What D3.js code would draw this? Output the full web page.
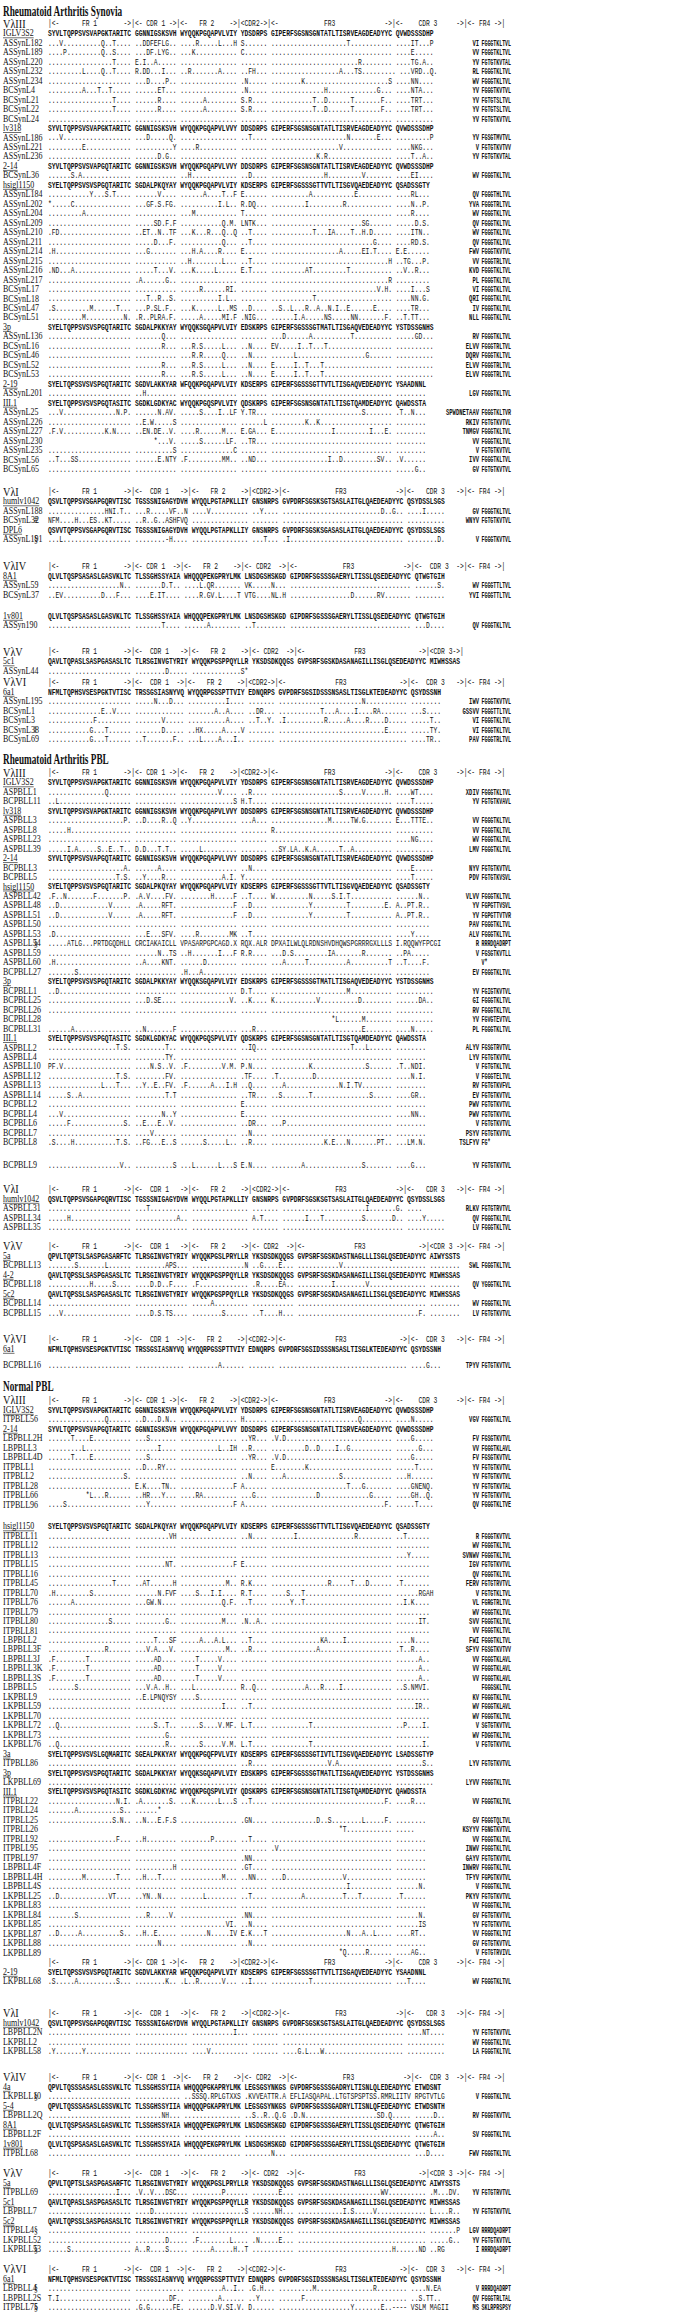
<!DOCTYPE html>
<html><head><meta charset="utf-8">
<script src="https://cdn.jsdelivr.net/npm/d3@7"></script>
<style>body{margin:0;background:#fff} svg{display:block}</style>
</head><body><div id="chart"></div>
<script>
// section titles and family labels
const sectionTitles = ["Rheumatoid Arthritis Synovia", "Rheumatoid Arthritis PBL", "Normal PBL"];
const segLabels = ["FR 1", "CDR 1", "FR 2", "CDR2", "FR3", "CDR 3"];

// germline sequences (segments split by one space)
const germlines = [
  ["IGLV3S2", "SYVLTQPPSVSVAPGKTARITC GGNNIGSKSVH WYQQKPGQAPVLVIY YDSDRPS GIPERFSGSNSGNTATLTISRVEAGDEADYYC QVWDSSSDHP"],
  ["lv318", "SYVLTQPPSVSVAPGKTARITC GGNNIGSKSVH WYQQKPGQAPVLVVY DDSDRPS GIPERFSGSNSGNTATLTISRVEAGDEADYYC QVWDSSSDHP"],
  ["2-14", "SYVLTQPPSVSVAPGQTARITC GGNNIGSKSVH WYQQKPGQAPVLVVY DDSDRPS GIPERFSGSNSGNTATLTISRVEAGDEADYYC QVWDSSSDHP"],
  ["hsigl1150", "SYELTQPPSVSVSPGQTARITC SGDALPKQYAY WYQQKPGQAPVLVIY KDSERPS GIPERFSGSSSGTTVTLTISGVQAEDEADYYC QSADSSGTY"],
  ["3p", "SYELTQPPSVSVSPGQTARITC SGDALPKKYAY WYQQKSGQAPVLVIY EDSKRPS GIPERFSGSSSGTMATLTISGAQVEDEADYYC YSTDSSGNHS"],
  ["2-19", "SYELTQPSSVSVSPGQTARITC SGDVLAKKYAR WFQQKPGQAPVLVIY KDSERPS GIPERFSGSSSGTTVTLTISGAQVEDEADYYC YSAADNNL"],
  ["III.1", "SYELTQPPSVSVSPGQTASITC SGDKLGDKYAC WYQQKPGQSPVLVIY QDSKRPS GIPERFSGSNSGNTATLTISGTQAMDEADYYC QAWDSSTA"],
  ["3a", "SYELTQPPSVSVSLGQMARITC SGEALPKKYAY WYQQKPGQFPVLVIY KDSERPS GIPERFSGSSSGTIVTLTISGVQAEDEADYYC LSADSSGTYP"],
  ["humlv1042", "QSVLTQPPSVSGAPGQRVTISC TGSSSNIGAGYDVH WYQQLPGTAPKLLIY GNSNRPS GVPDRFSGSKSGTSASLAITGLQAEDEADYYC QSYDSSLSGS"],
  ["DPL6", "QSVVTQPPSVSGAPGQRVTISC TGSSSNIGAGYDVH WYQQLPGTAPKLLIY GNSNRPS GVPDRFSGSKSGASASLAITGLQAEDEADYYC QSYDSSLSGS"],
  ["8A1", "QLVLTQSPSASASLGASVKLTC TLSSGHSSYAIA WHQQQPEKGPRYLMK LNSDGSHSKGD GIPDRFSGSSSGAERYLTISSLQSEDEADYYC QTWGTGIH"],
  ["1v801", "QLVLTQSPSASASLGASVKLTC TLSSGHSSYAIA WHQQQPEKGPRYLMK LNSDGSHSKGD GIPDRFSGSSSGAERYLTISSLQSEDEADYYC QTWGTGIH"],
  ["5c1", "QAVLTQPASLSASPGASASLTC TLRSGINVGTYRIY WYQQKPGSPPQYLLR YKSDSDKQQGS GVPSRFSGSKDASANAGILLISGLQSEDEADYYC MIWHSSAS"],
  ["6a1", "NFMLTQPHSVSESPGKTVTISC TRSSGSIASNYVQ WYQQRPGSSPTTVIY EDNQRPS GVPDRFSGSIDSSSNSASLTISGLKTEDEADYYC QSYDSSNH"],
  ["5a", "QPVLTQPTSLSASPGASARFTC TLRSGINVGTYRIY WYQQKPGSLPRYLLR YKSDSDKQQGS GVPSRFSGSKDASTNAGLLLISGLQSEDEADYYC AIWYSSTS"],
  ["4-2", "QAVLTQPSSLSASPGASASLTC TLRSGINVGTYRIY WYQQKPGSPPQYLLR YKSDSDKQQGS GVPSRFSGSKDASANAGILLISGLQSEDEADYYC MIWHSSAS"],
  ["5c2", "QAVLTQPSSLSASPGASASLTC TLRSGINVGTYRIY WYQQKPGSPPQYLLR YKSDSDKQQGS GVPSRFSGSKDASANAGILLISGLQSEDEADYYC MIWHSSAS"],
  ["4a", "QPVLTQSSSASASLGSSVKLTC TLSSGHSSYIIA WHQQQPGKAPRYLMK LEGSGSYNKGS GVPDRFSGSSSGADRYLTISNLQLEDEADYYC ETWDSNT"],
  ["5-4", "QPVLTQSSSASASLGSSVKLTC TLSSGHSSYIIA WHQQQPGKAPRYLMK LEGSGSYNKGS GVPDRFSGSSSGADRYLTISNLQFEDEADYYC ETWDSNTH"]
];

// clone rows: name;mark;segments (short segment = padded with dots, "_" = blank);FR4
// "=name" is a germline row
const synL3 = [
"=IGLV3S2",
"ASSynL182;;...V..........Q..T.... ..DDFEFLG.. ....R.....L...H S...... ....................T........... ....IT...P;VI FGGGTKLTVL",
"ASSynL189;;....P.........Q..S.... ...DF.LYG.. ...K........... C...... . ....E.....;VV FGGGTKLTVL",
"ASSynL220;;.................T.... E.I..A..... . . .......................R........ ....TG.A..;YV FGTGTKVTAL",
"ASSynL232;;.........L....Q..T.... R.DD...I... ..R.......A.... ..FH... ..................A...TS......... ...VRD..Q.;RL FGGGTKLTVL",
"ASSynL234;;. ...D....P.. . .N..... ........K......................S ....NN....;WV FGGGTKLTVL",
"BCSynL4;;.........A...T..T..... ......ET... . .N..... ..............H.............G... ....NTA...;YV FGGGTKVTVL",
"BCSynL21;;.................T.... ......R.... ......A........ S.R.... ...........T..D......T.......F.. ....TRT...;YV FGTGTSLTVL",
"BCSynL22;;.................T.... ......R.... ......A........ S.R.... ...........T..D......T.......F.. ....TRT...;YV FGTGTSLTVL",
"BCSynL24;;. . . . . .;YV FGTGTKVTVL",
"=lv318",
"ASSynL186;;...V. ...D.....Q. . ..T.... ....................N.......E... .........P;YV FGSGTMVTVL",
"ASSynL221;;.........E. ..........Y ....R. . ..................V. ....NKG...;V FGTGTKVTVV",
"ASSynL236;;. ......D.G.. . . ............K.R. ....T..A..;YV FGTGTKVTAL",
"=2-14",
"BCSynL36;;......S.A. . ..H. ..D.... ..............H.........V. ....EI....;WV FGGGTKLTVL",
"=hsigl1150",
"ASSynL184;;...........Y...S.T.... ......V.... ......A....T..F E...... ..........A...........E. ....RL...;QV FGGGTHLTVL",
"ASSynL202;;*.....C. ...GF.S.FG. ..........I.L.. R.DQ... .........I.........R. ....N..P.;YVA FGGGTRLTVL",
"ASSynL204;;.........A. . ...M. T...... . ....R....;WV FGGGTKLTVL",
"ASSynL209;;. .....SD.F.F ...........Q.M. LNTK... ........................SG. .....D.S.;QV FGGGTKLTVL",
"ASSynL210;;.FD. ..ET..N..TF ...K...R...Q..Q ..T.... ...........T...IA....T..H.D. ....ITN..;WV FGGGTKLTVL",
"ASSynL211;;. .....D...F. ...........Q... ..T.... ...........................G. ....RD.S.;QV FGGGTKLTVL",
"ASSynL214;;.H. ...G. ...H.A....R. E...... ..................A.....EI.T. E.E......;FWV FGGGTKVTVL",
"ASSynL215;;. . ..H........L. ..T.... ...............................H ..TG...P.;VV FGGGTRLTVL",
"ASSynL216;;.ND...A. .....T...V. ...K.....L. E.T.... .........AT.........T. ..V..R...;KVD FGGGTKLTVL",
"ASSynL217;;. .A......G.. . . ...............................R .;PL FGGGTKLTVL",
"BCSynL17;;. . .....R......RI. . ............................V.H. ....I...S;VI FGGGTKLTVL",
"BCSynL18;;. ...T..R..S. ..........I.L.. . ...........T. ....NN.G.;QRI FGGGTKLTVL",
"BCSynL47;;.S.........M......T... ...P.SL.F.. ...K......L..MS ..D.... ..S..L...R..A..N.I..E......E.... ....TR...;IV FGGGTKLTVL",
"BCSynL51;;.........M..........N. .R..PLRA.F. .....A.....MI.F .NIG... ......I.A.....NS.....NN.......F. ..T.TT...;NLL FGGGTKLTVL",
"=3p",
"ASSynL136;;. .......Q... . . ...D......A..........T. .....GD...;RV FGGGTKLTVL",
"BCSynL16;;. .......R... ...R.S.....L. ..N.... EV.....I..T...T. .;ELVV FGGGTRLTVL",
"BCSynL46;;. . ...R.R.....Q. ..N.... ......L..................G. .;DQRV FGGGTKLTVL",
"BCSynL52;;. .......R... ...R.S.....L. ..N.... E.....I..T...T. .;ELVV FGGGTRLTVL",
"BCSynL53;;. .......R... ...R.S.....L. ..N.... E.....I..T...T. .;ELVV FGGGTRLTVL",
"=2-19",
"ASSynL201;;. ..H. . . . .;LGV FGGGTKLTVL",
"=III.1",
"ASSynL25;;...V..............N.P. ......N.AV. .....S....I..LF Y.TR... ........................S. .T..N...;SPWDNETAAV FGGGTKLTVR",
"ASSynL226;;. ..E.W.....S . ......L .........K..K. .;RKIV FGTGTKVTVL",
"ASSynL227;;.F.V...........K.N. ..EN.DE..V. ....R......M. E.GA... E...............I.........I...E. .;TNMGV FGGGTKLTVL",
"ASSynL230;;_ _____*...V. .....S......LF. ..TR... . .;VV FGGGTKLTVL",
"ASSynL235;;. ..........S ..............C . . .;V FGTGTKVTVL",
"BCSynL56;;..T...SS. ......E.NTY .F.........MM.. ..ND... ...............I..D.........SV.. .V......;IVV FGGGTKLTVL",
"BCSynL65;;. . . . . .....G..;GV FGTGTKVTVL"
];
const synL1 = [
"=humlv1042",
"ASSynL188;;...............HNI.T.. ...R.....VF..N ....V. ..Y.... ..........................D..G.. ....I.....;GV FGGGTKLTVL",
"BCSynL32;#;NFM....H...ES..KT..... ..R..G..ASHFVQ . . . .;WNYV FGTGTKVTVL",
"=DPL6",
"ASSynL191;§;...L. ........-H.... . ...T... .I. ........D.;V FGGGTKVTVL"
];
const synL4 = [
"=8A1",
"ASSynL59;;...................N.. .......D.T.. ....L.QR. VK.....N... . ......S.;WV FGGGTTLTVL",
"BCSynL37;;..EV..........D...F... ....E.IT.... ....R.GV.L....T VTG....NL.H ................D......RV. .;YVI FGGGTTLTVL"
];
const synL4b = [
"=1v801",
"ASSyn190;;. .......T.... ......A. ..T. . ...D....;QV FGGGTKLTVL"
];
const synL5 = [
"=5c1",
"ASSynL44;;. ........D..... .............S*;"
];
const synL6 = [
"=6a1",
"ASSynL195;;. .....N...D... ..........I. . ......................N. .;IWV FGGGTKVTVL",
"BCSynL1;;..............E..V.... . .......A..A. ..DR... ...........T...A....I....RA. ...S....;GSSVV FGGGTTLTVL",
"BCSynL3;;............F. .......V. ..........A. ..T..Y. .I..........R.....A....R....D. .....T..;VI FGGGTKLTVL",
"BCSynL38;‖;...........G...T. .......D. ..HX.....A....V . ............................E. .....TY.;VI FGGGTKLTVL",
"BCSynL69;;...........G...T. ..T.......F.. ...L....A...I.. . . ....TR..;PAV FGGGTRLTVL"
];

const pblL3 = [
"=IGLV3S2",
"ASPBLL1;;...............Q. . ..........V. ..R.... ..................S.....V.....H. ....WT....;XDIV FGGGTKLTVL",
"BCPBLL11;;..L. . ..............S H.T.... . ....T.....;YV FGTGTKVAVL",
"=lv318",
"ASPBLL3;;....................P. ..D....R..Q ..Y. ...A... ...............M.....TW.G. E...TTTE..;VV FGGGTKLTVL",
"ASPBLL8;;.....H. . . . R. .;VV FGGGTKLTVL",
"ASPBLL23;;. . . . . ....NG....;WV FGGGTKLTVL",
"ASPBLL39;;.....I.A.....S..E..T.. D.D...T.T.. .....L. . ..SY.LA..K.A......T..A. .;LMV FGGGTKLTVL",
"=2-14",
"BCPBLL3;;....................A. ......A.... . ..N.... . ....E.....;NYV FGTGTKVTVL",
"BCPBLL5;;..................T.S. ..Y....R... ...........A.I. Y...... . ....T.....;PDV FGTGTKVSVL",
"=hsigl1150",
"ASPBLL42;;.F..N.......F.......P. .A.V....FV. ........H.....F ..T.... W.........N.....S.I.T. ......N..;VLVV FGGGTKLTVL",
"ASPBLL48;;..D.............V. .A.....RFT. ..............F ..D.... ..........Y.........T.........E. A..PT.R..;YV FGPGTTVSVL",
"ASPBLL51;;..D.............V. .A.....RFT. ..............F ..D.... ..........Y.........T. A..PT.R..;YV FGPGTTVTVR",
"ASPBLL50;;. . . . . .;PAV FGGGTKLTVL",
"ASPBLL53;;.D. ...E...SFV. ....R........MK ..T.... . ....Y....;ALV FGGGTKLTVL",
"ASPBLL54;§;.....ATLG...PRTDGQDHLL CRCIAKAICLL VPASARPGPCAGD.X RQX.ALR DPXAILWLQLRDNSHVDHQWSPGRRRGXLLLS I.RQQWYFPCGI;R RRRDQADRPT",
"ASPBLL59;;. ......N..TS ..H.......I...F R.R.... ...D.S.........IA.......R. ..PA.....;V FGSGTKVTLL",
"ASPBLL60;;.H. ..A....KNT. ......D. . ...A.....T..........A..........T ..T....F.;V*",
"BCPBLL27;;.......S. . .H...A. . . .;EV FGGGTKLTVL",
"=3p",
"BCPBLL1;;..D. . . D.T.... ....................M. .;YV FGIGTKVTVL",
"BCPBLL25;;. ...D.SE.... .............V. ..K.... K...........V..........D. ......DA..;GI FGGGTKLTVL",
"BCPBLL26;;. . . . . .;RV FGGGTKLTVL",
"BCPBLL28;;_ _ _ _ ________________*L......M. .;YV FGVGTEVTVL",
"BCPBLL31;;......A. ..N.......F . ...R... ........................E. ....N.....;PL FGGGTKLTVL",
"=III.1",
"ASPBLL2;;..................T.S. ........T.. . ..IQ... .....................T...L. .;ALYV FGSGTRVTVL",
"ASPBLL4;;. ........TY. . . . .;LYV FGTGTKVTVL",
"ASPBLL10;;PF.V. ....N.S..V. .F.........V.M. P.N.... ..........K..............S. .T..NDI.;V FGTGTKLTVL",
"ASPBLL12;;..................T.S. ........FV. . .TF.... .T.........D. ....N.I.;V FGGGTELTVL",
"ASPBLL13;;..............L...T... ..Y..E..FV. .F......A...I.H ..Q.... ...A..............N.I.TV. .;RV FGTGTKVFVL",
"ASPBLL14;;.....S..A. ........T.T . ..TR... ..S.......T...............S. ....GR..;EV FGTGTKVTVL",
"BCPBLL2;;. . . E...... . .;PWV FGTGTKVTVL",
"BCPBLL4;;...V. .......N..Y . E...... . ....NN..;PWV FGTGTKVTVL",
"BCPBLL6;;.....F..............S. ..E...E..V. . ..DR... ...P. .;V FGTGTKVTVL",
"BCPBLL7;;. ....V. . ..N.... . .;PSYV FGTGTKVTVL",
"BCPBLL8;;.S....H...........T.S. ..FG...E..S ......S.....L.. ..R.... ..............K.E...N.......PT.. ...LM.N.;TSLFYV FG*"
];
const pblL3b = [
"BCPBLL9;;...................V.. ..........S ...L......L...S E.N.... ........A...............S. ....G...;YV FGTGTKVTVL"
];
const pblL1 = [
"=humlv1042",
"ASPBLL31;;. ...T. . . ......................I.......G. ....______;RLKV FGTGTRVTVL",
"ASPBLL34;;.....H. ...........A.. . A.T.... ......I...T..........S.......D.. ....Y.....;QV FGGGTKLTVL",
"ASPBLL35;;. . . . . .;LV FGGGTKLTVL"
];
const pblL5 = [
"=5a",
"BCPBLL13;;.......S.......L. ........APS... ..............N ..G....E... ...........V. .;SWL FGGGTKLTVL",
"=4-2",
"BCPBLL18;;...........H.....S. ....D.D..F... .F. .R.....EA.. .........I........V. .;QV YGGGTKLTVL",
"=5c2",
"BCPBLL14;;. . .....A. . . .;WV FGGGTKLTVL",
"BCPBLL15;;...V. ....D.S.TS.... ........S. ..T....H... ................................F. .;LV FGTGTKVTVL"
];
const pblL6 = ["=6a1"];
const pblL6b = [
"BCPBLL16;;. . ........A. . . ....G...;TPYV FGTGTKVTVL"
];

const nL3a = [
"=IGLV3S2",
"ITPBLL56;;...............Q. ..D...D.N.. . H...... .......................Q. ....N.....;VGV FGGGTKLTVL",
"=2-14",
"LBPBLL2H;;......T....E. ...S. . ..YR... .V.D. ....G.....;FV FGSGTKVTVL",
"LBPBLL3;;.........L. ......I.... ..........L..IH ..R.... .........D..D....I..G. ......G...;VV FGGGTKLAVL",
"LBPBLL4D;;......T....E. ...S. . ..YR... .V.D. ....G.....;FV FGSGTKVTVL",
"ITPBLL1;;. ..D...RY... . . E........K. .....T....;YV FGTGTKVTVL",
"ITPBLL2;;....................S. . . ..N.... ...A..............S. ...H......;YV FGTGTKVTVL",
"ITPBLL28;;. E.K....TN.. ..............F A...... ....................T...G. ....GNENQ.;YV FGTGTKVTAL",
"ITPBLL66;;__________*L...R...... ..HR...Y... ....RA. ...G... ............D.............G. ....GH..Q.;YV FGTGTKVTVL",
"ITPBLL96;;....S. ...Y. ..............F A...... ..............................F. .....T....;QV FGGGTKLTVE"
];
const nL3b = [
"=hsigl1150",
"ITPBLL11;;. .........VH . ..N.... ......I...............R. ..T......;R FGGGTKVTVL",
"ITPBLL12;;. . . . . .;WV FGGGTKLTVL",
"ITPBLL13;;. . . . . ...Y.....;SVNWV FGGGTKLTVL",
"ITPBLL15;;. ........NT. ..............F E...... . .;IGV FGTGTKVTVL",
"ITPBLL16;;. . . . . .;QV FGGGTKLTVL",
"ITPBLL45;;.................T.... ..AT......H ............M.. R.K.... ...............R.....T...D. .T.......;FERV FGTGTRVTVL",
"ITPBLL70;;.H.........S. ......N.FVF ....S...I.I. R.T.... ....S...T. ......RGAH;V FGTGTKLTVL",
"ITPBLL76;;......A. ...GW.N.... ...........Q.F. ..T.... .....Y..T. ..I.K....;VL FGRGTRLTVL",
"ITPBLL79;;. . . . . .;WV FGGGTKLTVL",
"ITPBLL80;;................S. ........G.. ...........M. .N..A.. . ......IT.;SVV FGGGTKLTVL",
"ITPBLL81;;. . . . . .;VV FGGGTKLTVL",
"LBPBLL2;;. .....T...SF .....A...A.L. ..T.... .............KA....I. ....N....;FWI FGGGTKLTVL",
"LBPBLL3F;;...............R. ...V.A...V. ............M.. ..R.... ............A. .T..R....;SFYV FGSGTKVTVV",
"LBPBLL3J;;.F........T. .....AD.... ....T.....V. . . ......A..;VV FGGGTKLAVL",
"LBPBLL3K;;.F........T. .....AD.... ....T.....V. . . ......A..;VV FGGGTKLAVL",
"LBPBLL3S;;.F........T. .....AD.... ....T.....V. . . ......A..;VV FGGGTKLAVL",
"LBPBLL5;;.......S. ...V.A..H.. ...L. R..Q... .........A...R....I. ..S.NMVI.;FGGGSKLTVL",
"LKPBLL9;;. ..E.LPNQYSY ....S. . . .;KV FGGGTKLTVL",
"LKPBLL59;;. . ...........I. ..T.... . .....IR..;WV FGGGTKLAVL",
"LKPBLL70;;. . . . . .;WV FGGGTKLTVL",
"LKPBLL72;;..Q. .....S..T.. .....S....V.MF. L.T.... ..........T. ..P....I.;V SGTGTKVTVL",
"LKPBLL73;;. ........G.. . . . .;WV FDGGTKLTVL",
"LKPBLL76;;..Q. ........R.. .....S.....V.M. L.T.... ..........T. .......I.;V FGTGTKVTVL",
"=3a",
"ITPBLL86;;. . . ..R.... ...............V.A. .......S..;LYV FGTGTKVTVL",
"=3p",
"LKPBLL69;;. . . . . .;LYVV FGGGTKLTVL",
"=III.1",
"ITPBLL22;;..................N.I. .A.......S. ...K......L...S ..T.... ..............................F. ....R...;VV FGGGTKLTVL",
"ITPBLL24;;.......A...........S.. ......*____;",
"ITPBLL25;;.................S.N.. ..N...E.F.S . .GN.... ............D..S........L.....F. .;GV FGGGTQLTVL",
"ITPBLL26;;_ _ _ _ __________________*T. .....___;KSYYV FGNGTKVTVL",
"ITPBLL92;;..................F. ..H. ........P. ..T.... . .;VV FGGGTKLTVL",
"ITPBLL95;;. . . . .V. .;INWV FGGGTKLTVL",
"ITPBLL97;;. . . .NN.... . .;GAYV FGTGTKVTVL",
"LBPBLL4F;;. ..........H . .GT.... . .;INWRV FGGGTKLTVL",
"LBPBLL4H;;.........M........T... ..H...T.... ...........M... ..NN... ...D...............V. .;TFYV FGPGTKVTVL",
"LBPBLL4S;;. . . . ....................I. ......N.;V FGGGTKLTVL",
"LKPBLL25;;..D.............VT. ..YN..N.... ......L. ..T.... ........A..........T...T. .T......;PKYV FGTGTKVTVL",
"LKPBLL83;;. . . . . .;VV FGGGTKLTVL",
"LKPBLL84;;.......S. ...R.....V. . .NN.... . ......N.;GV FGTGTKVTVL",
"LKPBLL85;;. . ............VI. ..N.... . ......IS;YV FGTGTKVTVL",
"LKPBLL87;;..D.....A..........S.. ..H..E..... .......N.....IV E.K...T ....................N...A..L. ....RT..;VV FGGGTKLTVI",
"LKPBLL88;;. ......N.... . ..N.... . .;GV FGTGTKVTVL",
"LKPBLL89;;_ _ _ _ __________________*Q.....R. ....AG..;V FGTGTRVIVL"
];
const nL3c = [
"=2-19",
"LKPBLL68;;.S.....A..........S... ........K.. .L..R......V... ..I.... ..........T. ...T....;WV FGGGTKLTVL"
];
const nL1 = [
"=humlv1042",
"LBPBLL2N;;. . ...........I... . . ....NT....;YV FGTGTKVTVL",
"LKPBLL2;;. . . . . .;WV FGGGTKLTVL",
"LKPBLL58;;.Y.......Y. . ....V. . ....G.L...W. .;LA FGGGTKLTVL"
];
const nL4 = [
"=4a",
"LKPBLL10;§;. . ..SSSQ.RPLGTXXS .KVVEATTR.A EFLIASQAPAL.LTGTSPSPTSS.RMRLIITV RPGTVTLG;V FGGGTKLTVL",
"=5-4",
"LBPBLL2Q;;. .......NH... . ..S..R..Q.G .D.N...................SD.Q. .....D..;RV FGGGTKVTVL",
"=8A1",
"LBPBLL2F;;. . . . . .....A..;SV FGGGTKLTVL",
"=1v801",
"ITPBLL68;;. . . .......N... . ...D....;FWV FGGGTKLTVL"
];
const nL5 = [
"=5a",
"ITPBLL69;;..................I... .V..V...DSC... ........P. .......E... ......................WV. .M...DV.;YV FGTGTRVTVL",
"=5c1",
"LBPBLL7;;. ....D. ..............S ......NH... ............I.S.....V. L....R..;YV FGTGTKVTVL",
"=5c2",
"ITPBLL4;§;. . . . . .......P;LGV RRRDQADRPT",
"LKPBLL52;;. ........D..... .F........L.... .N.....E... . .....G..;YV FGTGTKVTVL",
"LKPBLL53;§;.....S. A..R....S..... .....A.....H..T . .........................H......ND ..RG____;I RRRDQADRPT"
];
const nL6 = [
"=6a1",
"LBPBLL4;§;. . .........A..I.. .G.H... .........M...............R. ....N.EA;V RRRDQADRPT",
"LBPBLL2S;;T.I. .........DF.. ........A. ..Y.... ......F. ..S.TT..;QV FGGGTRLTAL",
"ITPBLL75;§;. .G.G......FE. ......D.V.SI.V. D...... ...................Y.......E..---- VSLM_MAGII;MS SKLRPRSPSY"
];

// ---------- layout ----------
const W = 685, H = 2313;
const SX = 0.66;      // horizontal squeeze of the scanned figure
const NX = 0.76;      // squeeze for names
const CW = 3.78;      // width of one residue column
const SEQ_X = 48;
const P = 9.47;       // line pitch
const MONO = "'Liberation Mono','DejaVu Sans Mono',monospace";
const SERIF = "'Liberation Serif','DejaVu Serif',serif";

const blocks = [
  {title: 0, y: 11},
  {fam: "VλIII", hy: 23.5, parts: [[synL3, 33]]},
  {fam: "VλI", hy: 491.5, parts: [[synL1, 501]]},
  {fam: "VλIV", hy: 566, parts: [[synL4, 575.5], [synL4b, 615.5]]},
  {fam: "VλV", hy: 651.5, noFr4: true, parts: [[synL5, 661]]},
  {fam: "VλVI", hy: 682, parts: [[synL6, 691.5]]},
  {title: 1, y: 759},
  {fam: "VλIII", hy: 772.5, parts: [[pblL3, 782], [pblL3b, 1164.5]]},
  {fam: "VλI", hy: 1189, parts: [[pblL1, 1198.5]]},
  {fam: "VλV", hy: 1246, parts: [[pblL5, 1255.5]]},
  {fam: "VλVI", hy: 1339, parts: [[pblL6, 1348.5], [pblL6b, 1365]]},
  {title: 2, y: 1386.5},
  {fam: "VλIII", hy: 1400, parts: [[nL3a, 1409.5], [nL3b, 1526]]},
  {fam: "", hy: 1962, parts: [[nL3c, 1971.5]]},
  {fam: "VλI", hy: 2013, parts: [[nL1, 2022.5]]},
  {fam: "VλIV", hy: 2077, parts: [[nL4, 2086.5]]},
  {fam: "VλV", hy: 2173, parts: [[nL5, 2182.5]]},
  {fam: "VλVI", hy: 2269, parts: [[nL6, 2278.5]]}
];

const germMap = new Map(germlines);
const col = d3.scaleLinear().domain([0, 1]).range([SEQ_X, SEQ_X + CW]);   // column -> px
const y = d3.scaleLinear().domain([0, H]).range([0, H]);
const nb = s => s.replace(/ /g, "\u00A0");

function fillRow(seq, germ) {
  const gs = germ.split(" ");
  const ss = seq.split(" ");
  return gs.map((g, i) => {
    let s = ss[i];
    if (s === undefined || s === "_") return " ".repeat(g.length);
    s = s.replace(/_/g, " ");
    return s.length < g.length ? s + ".".repeat(g.length - s.length) : s;
  }).join(" ").replace(/\s+$/, "");
}

function center(label, w) {
  const l = Math.max(0, Math.floor((w - label.length) / 2));
  return (" ".repeat(l) + label).padEnd(w, " ").slice(0, w);
}
function piece(L, label) {
  if (L >= label.length + 6) return "<-" + center(label, L - 4) + "->";
  if (L >= label.length + 3) return "<" + center(label, L - 3) + "->";
  return ("<" + label + ">").slice(0, L).padEnd(L, " ");
}
function headerText(germ, noFr4) {
  const segs = germ.split(" ");
  let starts = [], s = 0;
  segs.forEach(g => { starts.push(s); s += g.length + 1; });
  let str = "|";
  segs.forEach((g, i) => {
    let L = g.length;
    if (i === 0) L -= 1;
    if (i === segs.length - 1 && !noFr4) L = Math.max(L, 110 - starts[i]);
    str += piece(L, segLabels[i]) + "|";
  });
  if (!noFr4) str += "<- FR4 ->|";
  return str;
}

// flatten rows
const rows = [], headers = [], fams = [], titles = [];
blocks.forEach(b => {
  if (b.title !== undefined) { titles.push({t: sectionTitles[b.title], y: b.y}); return; }
  let germ = null;
  b.parts.forEach(([arr, y0], pi) => {
    arr.forEach((r, i) => {
      const yy = y0 + i * P;
      if (r[0] === "=") {
        const name = r.slice(1);
        germ = germMap.get(name);
        rows.push({name, mark: "", seq: germ, fr4: "", germ: true, y: yy});
      } else {
        const [name, mark, seq, fr4] = r.split(";");
        rows.push({name, mark, seq: fillRow(seq, germ), fr4: fr4 || "", germ: false, y: yy});
      }
      if (pi === 0 && i === 0) headers.push({t: headerText(germ, b.noFr4), y: b.hy});
    });
  });
  if (b.fam) fams.push({t: b.fam, y: b.hy});
});

const svg = d3.select("#chart").append("svg")
  .attr("width", W).attr("height", H)
  .style("background", "#fff");

const gS = svg.append("g").attr("transform", `scale(${SX},1)`);
const gN = svg.append("g").attr("transform", `scale(${NX},1)`);

// titles
gS.selectAll("text.title").data(titles).join("text")
  .attr("class", "title")
  .attr("x", 3 / SX).attr("y", d => y(d.y) + 4.8)
  .attr("font-family", SERIF).attr("font-weight", "bold").attr("font-size", 14)
  .attr("fill", "#111").text(d => d.t);

// family labels
gN.selectAll("text.fam").data(fams).join("text")
  .attr("class", "fam")
  .attr("x", 3 / NX).attr("y", d => y(d.y) + 4.2)
  .attr("font-family", SERIF).attr("font-size", 13.5)
  .attr("fill", "#111").text(d => d.t);

// header rows
gS.selectAll("text.hdr").data(headers).join("text")
  .attr("class", "hdr")
  .attr("x", col(0) / SX).attr("y", d => y(d.y) + 3)
  .attr("font-family", MONO).attr("font-size", 9)
  .attr("textLength", d => d.t.length * CW / SX).attr("lengthAdjust", "spacingAndGlyphs")
  .attr("fill", "#111").text(d => nb(d.t));

// names
const names = gN.selectAll("text.name").data(rows).join("text")
  .attr("class", "name")
  .attr("x", 3 / NX).attr("y", d => y(d.y) + 3.4)
  .attr("font-family", SERIF).attr("font-size", 10.5)
  .attr("fill", "#111").text(d => d.name);

// underline germline names
names.filter(d => d.germ).each(function(d) {
  const w = this.getComputedTextLength();
  gN.append("line")
    .attr("x1", 3 / NX).attr("x2", 3 / NX + w)
    .attr("y1", y(d.y) + 4.8).attr("y2", y(d.y) + 4.8)
    .attr("stroke", "#111").attr("stroke-width", 0.7);
});

// footnote marks
gN.selectAll("text.mark").data(rows.filter(d => d.mark)).join("text")
  .attr("class", "mark")
  .attr("x", 34 / NX).attr("y", d => y(d.y) + 3.4)
  .attr("font-family", SERIF).attr("font-size", 10)
  .attr("fill", "#111").text(d => d.mark);

// sequences
gS.selectAll("text.seq").data(rows).join("text")
  .attr("class", "seq")
  .attr("x", col(0) / SX).attr("y", d => y(d.y) + 3.3)
  .attr("font-family", MONO).attr("font-size", 9.5)
  .attr("font-weight", d => d.germ ? "bold" : "normal")
  .attr("textLength", d => d.seq.length * CW / SX).attr("lengthAdjust", "spacingAndGlyphs")
  .attr("fill", "#111").text(d => nb(d.seq));

// FR4 column
const fr = rows.filter(d => d.fr4).map(d => {
  const k = d.fr4.lastIndexOf(" ");
  return {y: d.y, pre: k < 0 ? "" : d.fr4.slice(0, k), core: k < 0 ? d.fr4 : d.fr4.slice(k + 1)};
});
const PRE_END = 479, CORE_X = 481.5, PW = 3.3, KW = 2.95;
gS.selectAll("text.pre").data(fr.filter(d => d.pre)).join("text")
  .attr("class", "pre")
  .attr("x", d => (PRE_END - d.pre.length * PW) / SX).attr("y", d => y(d.y) + 3.3)
  .attr("font-family", MONO).attr("font-size", 9.5).attr("font-weight", "bold")
  .attr("textLength", d => d.pre.length * PW / SX).attr("lengthAdjust", "spacingAndGlyphs")
  .attr("fill", "#111").text(d => d.pre);
gS.selectAll("text.core").data(fr).join("text")
  .attr("class", "core")
  .attr("x", CORE_X / SX).attr("y", d => y(d.y) + 3.3)
  .attr("font-family", MONO).attr("font-size", 9.5).attr("font-weight", "bold")
  .attr("textLength", d => d.core.length * KW / SX).attr("lengthAdjust", "spacingAndGlyphs")
  .attr("fill", "#111").text(d => d.core);
</script></body></html>
